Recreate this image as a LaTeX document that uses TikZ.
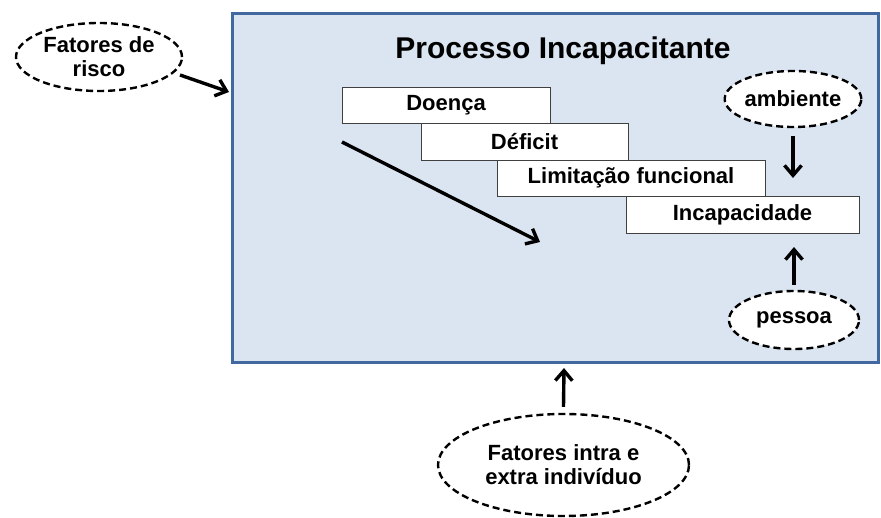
\documentclass[tikz,border=0pt]{standalone}
\usepackage{fontspec}
\setmainfont{Liberation Sans}
\usetikzlibrary{arrows.meta,shapes.geometric}
\definecolor{boxfill}{HTML}{DBE5F1}
\definecolor{boxline}{HTML}{41699F}
\begin{document}
\begin{tikzpicture}[x=1pt,y=-1pt,
  stagebox/.style={draw=black!75, line width=0.9pt, fill=white, inner sep=0pt,
    font=\fontsize{22}{24}\selectfont\bfseries},
  dashell/.style={ellipse, draw=black, dashed, dash pattern=on 7pt off 4pt, line width=2.4pt,
    fill=white, inner sep=0pt, align=center, font=\fontsize{22}{24}\selectfont\bfseries},
  arr/.style={line width=3.4pt, -{Straight Barb[length=10pt,width=17pt,line width=3.4pt]}}]
\useasboundingbox (0,0) rectangle (881,518);
\node[draw=boxline, line width=3pt, fill=boxfill, minimum width=646, minimum height=349,
  inner sep=0pt] (main) at (555,188.5) {};
\node[font=\fontsize{30}{32}\selectfont\bfseries] (title) at (563,51) {Processo Incapacitante};
\node[stagebox, minimum width=208, minimum height=36] (doenca) at (446,105) {Doença};
\node[stagebox, minimum width=207, minimum height=37] (deficit) at (524.5,141.5) {Déficit};
\node[stagebox, minimum width=268, minimum height=36] (limit) at (631,178) {Limitação funcional};
\node[stagebox, minimum width=233, minimum height=37] (incap) at (742.5,214.5) {Incapacidade};
\node[dashell, minimum width=130, minimum height=56] (amb) at (793,99) {ambiente};
\node[dashell, minimum width=130, minimum height=58] (pes) at (794,320) {pessoa};
\node[dashell, minimum width=166, minimum height=68] (risco) at (99,57) {Fatores de\\risco};
\node[dashell, minimum width=251, minimum height=102] (intra) at (563.5,465) {Fatores intra e\\extra indivíduo};
\coordinate (dstart) at (342,142);
\coordinate (dend) at (540,242);
\coordinate (rstart) at (180,75);
\coordinate (rend) at (229,92);
\draw[arr] (dstart) -- (dend);
\draw[arr] (amb.south) ++(0,8) -- (793,178);
\draw[arr] (pes.north) ++(0,-5) -- (794,247);
\draw[arr] (intra.north) ++(0,-6) -- (564,368);
\draw[arr] (rstart) -- (rend);
\end{tikzpicture}
\end{document}
